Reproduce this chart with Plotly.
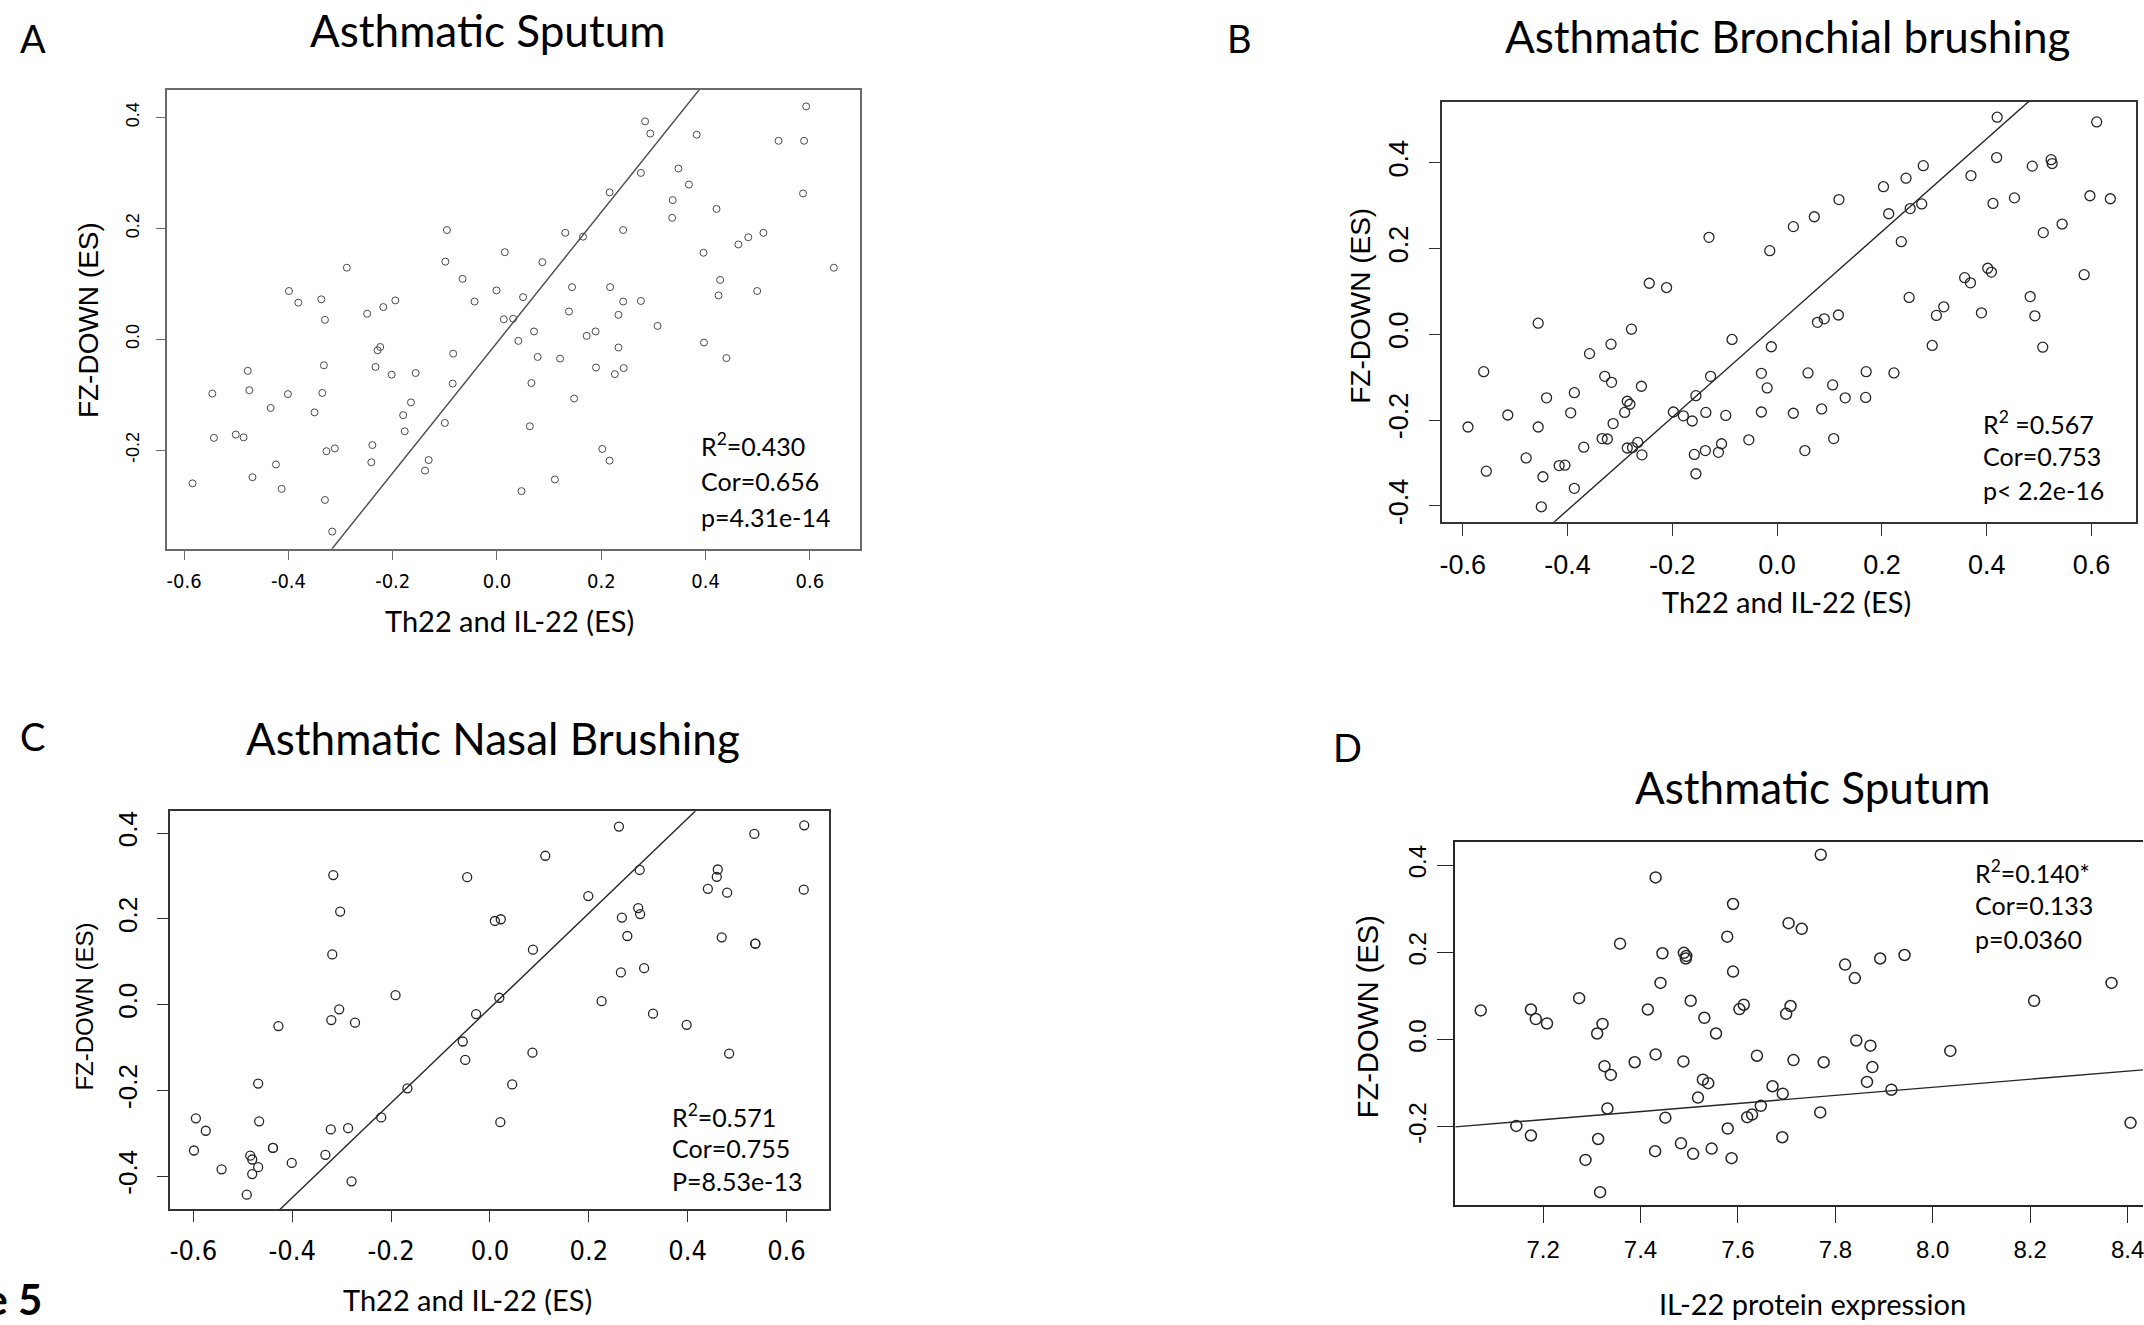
import numpy as np
import plotly.graph_objects as go

W, H = 2144, 1325

# ---------------- data ----------------
# Panel A: Asthmatic Sputum, Th22/IL-22 ES vs FZ-DOWN ES
A_x = [-0.096, -0.099, 0.015, -0.288, -0.066, -0.001, 0.050, -0.399, -0.381, -0.337,
       -0.330, -0.249, -0.218, -0.195, -0.043, 0.013, 0.031, 0.041, 0.071, 0.066,
       0.063, -0.224, -0.229, -0.084, -0.478, -0.332, -0.233, -0.202, -0.156, -0.546,
       -0.475, -0.401, -0.335, -0.085, -0.434, -0.350, -0.165, -0.180, -0.177, -0.100,
       -0.543, -0.501, -0.486, -0.327, -0.311, -0.239, -0.241, -0.131, -0.138, -0.424,
       -0.469, -0.413, -0.584, -0.330, -0.316, 0.047,
       0.284, 0.294, 0.383, 0.593, 0.540, 0.589, 0.276, 0.348, 0.368, 0.216,
       0.337, 0.336, 0.587, 0.421, 0.131, 0.165, 0.242, 0.087, 0.396, 0.463,
       0.482, 0.511, 0.646, 0.144, 0.217, 0.428, 0.425, 0.499, 0.242, 0.276,
       0.138, 0.233, 0.308, 0.172, 0.189, 0.078, 0.121, 0.233, 0.190, 0.226,
       0.243, 0.397, 0.440, 0.148, 0.202, 0.216, 0.111]
A_y = [0.197, 0.140, 0.157, 0.129, 0.109, 0.088, 0.076, 0.087, 0.066, 0.072,
       0.035, 0.046, 0.058, 0.070, 0.068, 0.036, 0.037, -0.003, 0.014, -0.079,
       -0.157, -0.014, -0.020, -0.026, -0.057, -0.047, -0.050, -0.064, -0.061, -0.098,
       -0.092, -0.099, -0.097, -0.080, -0.124, -0.132, -0.114, -0.137, -0.166, -0.151,
       -0.178, -0.172, -0.177, -0.202, -0.197, -0.191, -0.222, -0.218, -0.237, -0.226,
       -0.249, -0.270, -0.260, -0.290, -0.347, -0.274,
       0.393, 0.371, 0.369, 0.420, 0.358, 0.358, 0.300, 0.308, 0.279, 0.265,
       0.251, 0.219, 0.263, 0.235, 0.192, 0.185, 0.197, 0.139, 0.156, 0.171,
       0.184, 0.192, 0.129, 0.094, 0.094, 0.107, 0.079, 0.087, 0.068, 0.069,
       0.050, 0.044, 0.024, 0.006, 0.014, -0.032, -0.035, -0.015, -0.051, -0.063,
       -0.052, -0.006, -0.034, -0.107, -0.198, -0.219, -0.253]

# Panel B: Asthmatic Bronchial brushing
B_x = [-0.130, -0.244, -0.211, -0.456, -0.278, -0.086, -0.317, -0.358, -0.560, -0.329,
       -0.316, -0.127, -0.259, -0.440, -0.387, -0.155, -0.286, -0.281, -0.514, -0.394,
       -0.291, -0.198, -0.179, -0.162, -0.136, -0.098, -0.590, -0.456, -0.313, -0.054,
       -0.334, -0.324, -0.369, -0.286, -0.276, -0.266, -0.258, -0.158, -0.137, -0.112,
       -0.106, -0.479, -0.416, -0.405, -0.555, -0.447, -0.155, -0.387, -0.450,
       0.420, 0.610, 0.419, 0.279, 0.487, 0.523, 0.525, 0.370, 0.246, 0.203,
       0.118, 0.071, 0.031, -0.014, 0.213, 0.254, 0.276, 0.412, 0.453, 0.597,
       0.636, 0.237, 0.508, 0.544, 0.586, 0.402, 0.409, 0.358, 0.369, 0.252,
       0.483, 0.492, 0.318, 0.304, 0.390, 0.077, 0.090, 0.117, -0.011, 0.296,
       0.507, -0.030, -0.019, 0.059, 0.170, 0.223, 0.106, 0.130, 0.169, -0.030,
       0.031, 0.085, 0.053, 0.108]
B_y = [0.226, 0.119, 0.109, 0.026, 0.012, -0.012, -0.023, -0.045, -0.087, -0.098,
       -0.112, -0.098, -0.121, -0.148, -0.136, -0.143, -0.156, -0.163, -0.188, -0.183,
       -0.182, -0.181, -0.190, -0.202, -0.182, -0.189, -0.216, -0.216, -0.208, -0.246,
       -0.243, -0.244, -0.263, -0.265, -0.264, -0.252, -0.281, -0.280, -0.271, -0.275,
       -0.255, -0.288, -0.306, -0.305, -0.319, -0.332, -0.325, -0.359, -0.402,
       0.506, 0.495, 0.412, 0.393, 0.392, 0.407, 0.398, 0.370, 0.364, 0.344,
       0.314, 0.274, 0.251, 0.195, 0.281, 0.293, 0.304, 0.305, 0.318, 0.323,
       0.316, 0.216, 0.237, 0.257, 0.139, 0.154, 0.145, 0.132, 0.120, 0.086,
       0.088, 0.043, 0.064, 0.044, 0.050, 0.028, 0.036, 0.045, -0.029, -0.026,
       -0.030, -0.091, -0.125, -0.090, -0.087, -0.090, -0.118, -0.148, -0.147, -0.181,
       -0.184, -0.174, -0.271, -0.243]

# Panel C: Asthmatic Nasal Brushing
C_x = [-0.317, -0.046, -0.303, -0.319, -0.191, -0.305, -0.321, -0.273, -0.428, -0.028,
       -0.055, -0.050, -0.167, -0.220, -0.469, -0.595, -0.575, -0.599, -0.467, -0.322,
       -0.287, -0.439, -0.439, -0.333, -0.401, -0.485, -0.481, -0.469, -0.481, -0.543,
       -0.492, -0.280,
       0.261, 0.636, 0.535, 0.112, 0.303, 0.461, 0.459, 0.441, 0.480, 0.635,
       0.199, 0.010, 0.022, 0.267, 0.300, 0.304, 0.278, 0.469, 0.537, 0.537,
       0.087, 0.265, 0.312, 0.019, 0.226, 0.330, 0.398, 0.086, 0.484, 0.045,
       0.021]
C_y = [0.302, 0.297, 0.217, 0.117, 0.022, -0.011, -0.036, -0.042, -0.050, -0.022,
       -0.086, -0.129, -0.195, -0.263, -0.184, -0.265, -0.294, -0.340, -0.272, -0.291,
       -0.288, -0.334, -0.334, -0.350, -0.369, -0.352, -0.361, -0.379, -0.395, -0.384,
       -0.443, -0.412,
       0.415, 0.418, 0.398, 0.347, 0.314, 0.315, 0.298, 0.270, 0.261, 0.268,
       0.253, 0.195, 0.199, 0.203, 0.225, 0.211, 0.160, 0.157, 0.142, 0.142,
       0.128, 0.075, 0.085, 0.016, 0.008, -0.021, -0.047, -0.112, -0.114, -0.186,
       -0.274]

# Panel D: Asthmatic Sputum, IL-22 protein expression vs FZ-DOWN ES
D_x = [7.431, 7.590, 7.704, 7.731, 7.578, 7.358, 7.445, 7.489, 7.494, 7.493,
       7.590, 7.441, 7.274, 7.503, 7.072, 7.175, 7.185, 7.208, 7.322, 7.311,
       7.415, 7.603, 7.612, 7.531, 7.555, 7.708, 7.699, 7.326, 7.339, 7.388,
       7.431, 7.488, 7.639, 7.714, 7.528, 7.539, 7.518, 7.671, 7.692, 7.332,
       7.451, 7.647, 7.629, 7.619, 7.145, 7.175, 7.313, 7.579, 7.691, 7.483,
       7.430, 7.508, 7.546, 7.587, 7.287, 7.317,
       7.770, 7.820, 7.840, 7.892, 7.942, 8.367, 8.208, 7.843, 7.872, 8.036,
       7.776, 7.876, 7.865, 7.915, 7.769, 8.406]
D_y = [0.372, 0.311, 0.267, 0.254, 0.236, 0.220, 0.198, 0.199, 0.192, 0.186,
       0.156, 0.130, 0.095, 0.089, 0.067, 0.069, 0.047, 0.037, 0.036, 0.014,
       0.069, 0.070, 0.080, 0.050, 0.014, 0.077, 0.059, -0.061, -0.081, -0.052,
       -0.034, -0.050, -0.037, -0.047, -0.092, -0.100, -0.133, -0.107, -0.124, -0.158,
       -0.179, -0.152, -0.172, -0.178, -0.198, -0.220, -0.228, -0.204, -0.224, -0.238,
       -0.256, -0.262, -0.250, -0.272, -0.276, -0.350,
       0.424, 0.172, 0.141, 0.186, 0.194, 0.130, 0.089, -0.002, -0.014, -0.026,
       -0.052, -0.063, -0.097, -0.115, -0.167, -0.191]

# fitted lines (intercept, slope)
A_fit = (-0.006, 1.176)
B_fit = (0.023, 1.082)
C_fit = (-0.008, 1.105)
D_fit = (-0.851, 0.0927)

# statistics printed inside each panel
A_stats = ["R<sup>2</sup>=0.430", "Cor=0.656", "p=4.31e-14"]
B_stats = ["R<sup>2</sup> =0.567", "Cor=0.753", "p< 2.2e-16"]
C_stats = ["R<sup>2</sup>=0.571", "Cor=0.755", "P=8.53e-13"]
D_stats = ["R<sup>2</sup>=0.140*", "Cor=0.133", "p=0.0360"]

# tick values
es_ticks_x = [-0.6, -0.4, -0.2, 0.0, 0.2, 0.4, 0.6]
A_ticks_y = [-0.2, 0.0, 0.2, 0.4]
BC_ticks_y = [-0.4, -0.2, 0.0, 0.2, 0.4]
D_ticks_x = [7.2, 7.4, 7.6, 7.8, 8.0, 8.2, 8.4]
D_ticks_y = [-0.2, 0.0, 0.2, 0.4]

titles = ["Asthmatic Sputum", "Asthmatic Bronchial brushing",
          "Asthmatic Nasal Brushing", "Asthmatic Sputum"]
letters = ["A", "B", "C", "D"]
x_titles = ["Th22 and IL-22 (ES)", "Th22 and IL-22 (ES)",
            "Th22 and IL-22 (ES)", "IL-22 protein expression"]
y_title = "FZ-DOWN (ES)"

# ---------------- layout helpers ----------------
CAL = "Lato, 'Open Sans', sans-serif"
ARIAL = "'Liberation Sans', Arial, sans-serif"
NARROW = "'Liberation Sans Narrow', 'DejaVu Sans Condensed', sans-serif"


def px2paper(px, py):
    return px / W, 1 - py / H


def fmt(vals):
    return [f"{v:.1f}" for v in vals]


def note(px, py, text, font, **kw):
    x, y = px2paper(px, py)
    d = dict(x=x, y=y, xref="paper", yref="paper", text=text, showarrow=False,
             xanchor="center", yanchor="middle", font=font)
    d.update(kw)
    return d


panels = [
    # box in pixels (left, top, right, bottom), axis ranges, style
    dict(box=(164, 90, 859, 550), xr=(-0.6335, 0.697), yr=(-0.378, 0.450),
         x=A_x, y=A_y, fit=A_fit, xt=es_ticks_x, yt=A_ticks_y,
         col="#4a4a4a", lcol="#6a6a6a", msize=7, mw=1.0, tlen=9,
         xfont=dict(family=NARROW, size=20), yfont=dict(family=ARIAL, size=18),
         xstand=4, ystand=10, stats=A_stats, sxy=(697, 446, 36),
         title_xy=(485, 30), letter_xy=(30, 38), xt_xy=(507, 622), yt_xy=(85, 321),
         ytsize=28, mirror_y=True),
    dict(box=(1442, 102, 2137, 523), xr=(-0.639, 0.685), yr=(-0.437, 0.542),
         x=B_x, y=B_y, fit=B_fit, xt=es_ticks_x, yt=BC_ticks_y,
         col="#262626", lcol="#333333", msize=10, mw=1.3, tlen=12,
         xfont=dict(family=ARIAL, size=27), yfont=dict(family=ARIAL, size=27),
         xstand=6, ystand=10, stats=B_stats, sxy=(1982, 423, 34),
         title_xy=(1788, 36), letter_xy=(1239, 38), xt_xy=(1787, 603), yt_xy=(1360, 306),
         ytsize=28, mirror_y=True),
    dict(box=(167, 813, 828, 1212), xr=(-0.648, 0.687), yr=(-0.477, 0.451),
         x=C_x, y=C_y, fit=C_fit, xt=es_ticks_x, yt=BC_ticks_y,
         col="#262626", lcol="#333333", msize=9, mw=1.3, tlen=11,
         xfont=dict(family=NARROW, size=27), yfont=dict(family=ARIAL, size=26),
         xstand=6, ystand=9, stats=C_stats, sxy=(668, 1118, 33),
         title_xy=(491, 740), letter_xy=(30, 738), xt_xy=(465, 1302), yt_xy=(82, 1009),
         ytsize=24, mirror_y=True),
    dict(box=(1455, 844, 2144, 1208), xr=(7.0197, 8.4316), yr=(-0.380, 0.453),
         x=D_x, y=D_y, fit=D_fit, xt=D_ticks_x, yt=D_ticks_y,
         col="#262626", lcol="#262626", msize=11, mw=1.5, tlen=16,
         xfont=dict(family=ARIAL, size=24), yfont=dict(family=ARIAL, size=24),
         xstand=6, ystand=2, stats=D_stats, sxy=(1974, 873, 34),
         title_xy=(1813, 789), letter_xy=(1347, 749), xt_xy=(1813, 1306), yt_xy=(1367, 1019),
         ytsize=29, mirror_y=False),
]

fig = go.Figure()
layout = dict(width=W, height=H, margin=dict(l=0, r=0, t=0, b=0),
              paper_bgcolor="white", plot_bgcolor="white", showlegend=False)
annotations = []

for i, p in enumerate(panels, start=1):
    xa = "x" if i == 1 else f"x{i}"
    ya = "y" if i == 1 else f"y{i}"
    l, t, r, b = p["box"]
    x0, y1 = px2paper(l, t)
    x1, y0 = px2paper(r, b)

    fig.add_trace(go.Scatter(
        x=p["x"], y=p["y"], mode="markers", xaxis=xa, yaxis=ya,
        marker=dict(symbol="circle-open", size=p["msize"], color=p["col"],
                    line=dict(width=p["mw"], color=p["col"])),
        hoverinfo="skip"))

    a, s = p["fit"]
    fx = np.array(p["xr"])
    fig.add_trace(go.Scatter(
        x=fx, y=a + s * fx, mode="lines", xaxis=xa, yaxis=ya,
        line=dict(color=p["col"], width=1.4), hoverinfo="skip"))

    common = dict(showgrid=False, zeroline=False, showline=True,
                  linecolor=p["lcol"], linewidth=1.6, ticks="outside",
                  ticklen=p["tlen"], tickwidth=1.4, tickcolor=p["lcol"],
                  tickmode="array", ticklabeloverflow="allow")
    layout["xaxis" if i == 1 else f"xaxis{i}"] = dict(
        common, domain=[x0, min(x1, 1.0)], range=list(p["xr"]),
        anchor=ya, mirror=True, tickvals=p["xt"], ticktext=fmt(p["xt"]),
        tickfont=dict(color="black", **p["xfont"]), ticklabelstandoff=p["xstand"])
    layout["yaxis" if i == 1 else f"yaxis{i}"] = dict(
        common, domain=[y0, y1], range=list(p["yr"]),
        anchor=xa, mirror=p["mirror_y"], tickvals=p["yt"], ticktext=fmt(p["yt"]),
        tickangle=-90,
        tickfont=dict(color="black", **p["yfont"]), ticklabelstandoff=p["ystand"])

    # panel title, letter and axis titles
    annotations.append(note(*p["title_xy"], titles[i - 1],
                            dict(family=CAL, size=44, color="black")))
    annotations.append(note(*p["letter_xy"], letters[i - 1],
                            dict(family=CAL, size=38, color="black")))
    annotations.append(note(*p["xt_xy"], x_titles[i - 1],
                            dict(family=CAL, size=29, color="black")))
    annotations.append(note(*p["yt_xy"], y_title,
                            dict(family=ARIAL, size=p["ytsize"], color="black"),
                            textangle=-90))

    # statistics block
    sx, sy, dy = p["sxy"]
    for k, line in enumerate(p["stats"]):
        annotations.append(note(sx, sy + k * dy, line,
                                dict(family=CAL, size=25, color="black"),
                                xanchor="left"))

# figure label at the lower left corner
annotations.append(note(41, 1302, "<b>Figure 5</b>",
                        dict(family=CAL, size=42, color="black"), xanchor="right"))

layout["annotations"] = annotations
fig.update_layout(**layout)
fig.write_html("out.html")
